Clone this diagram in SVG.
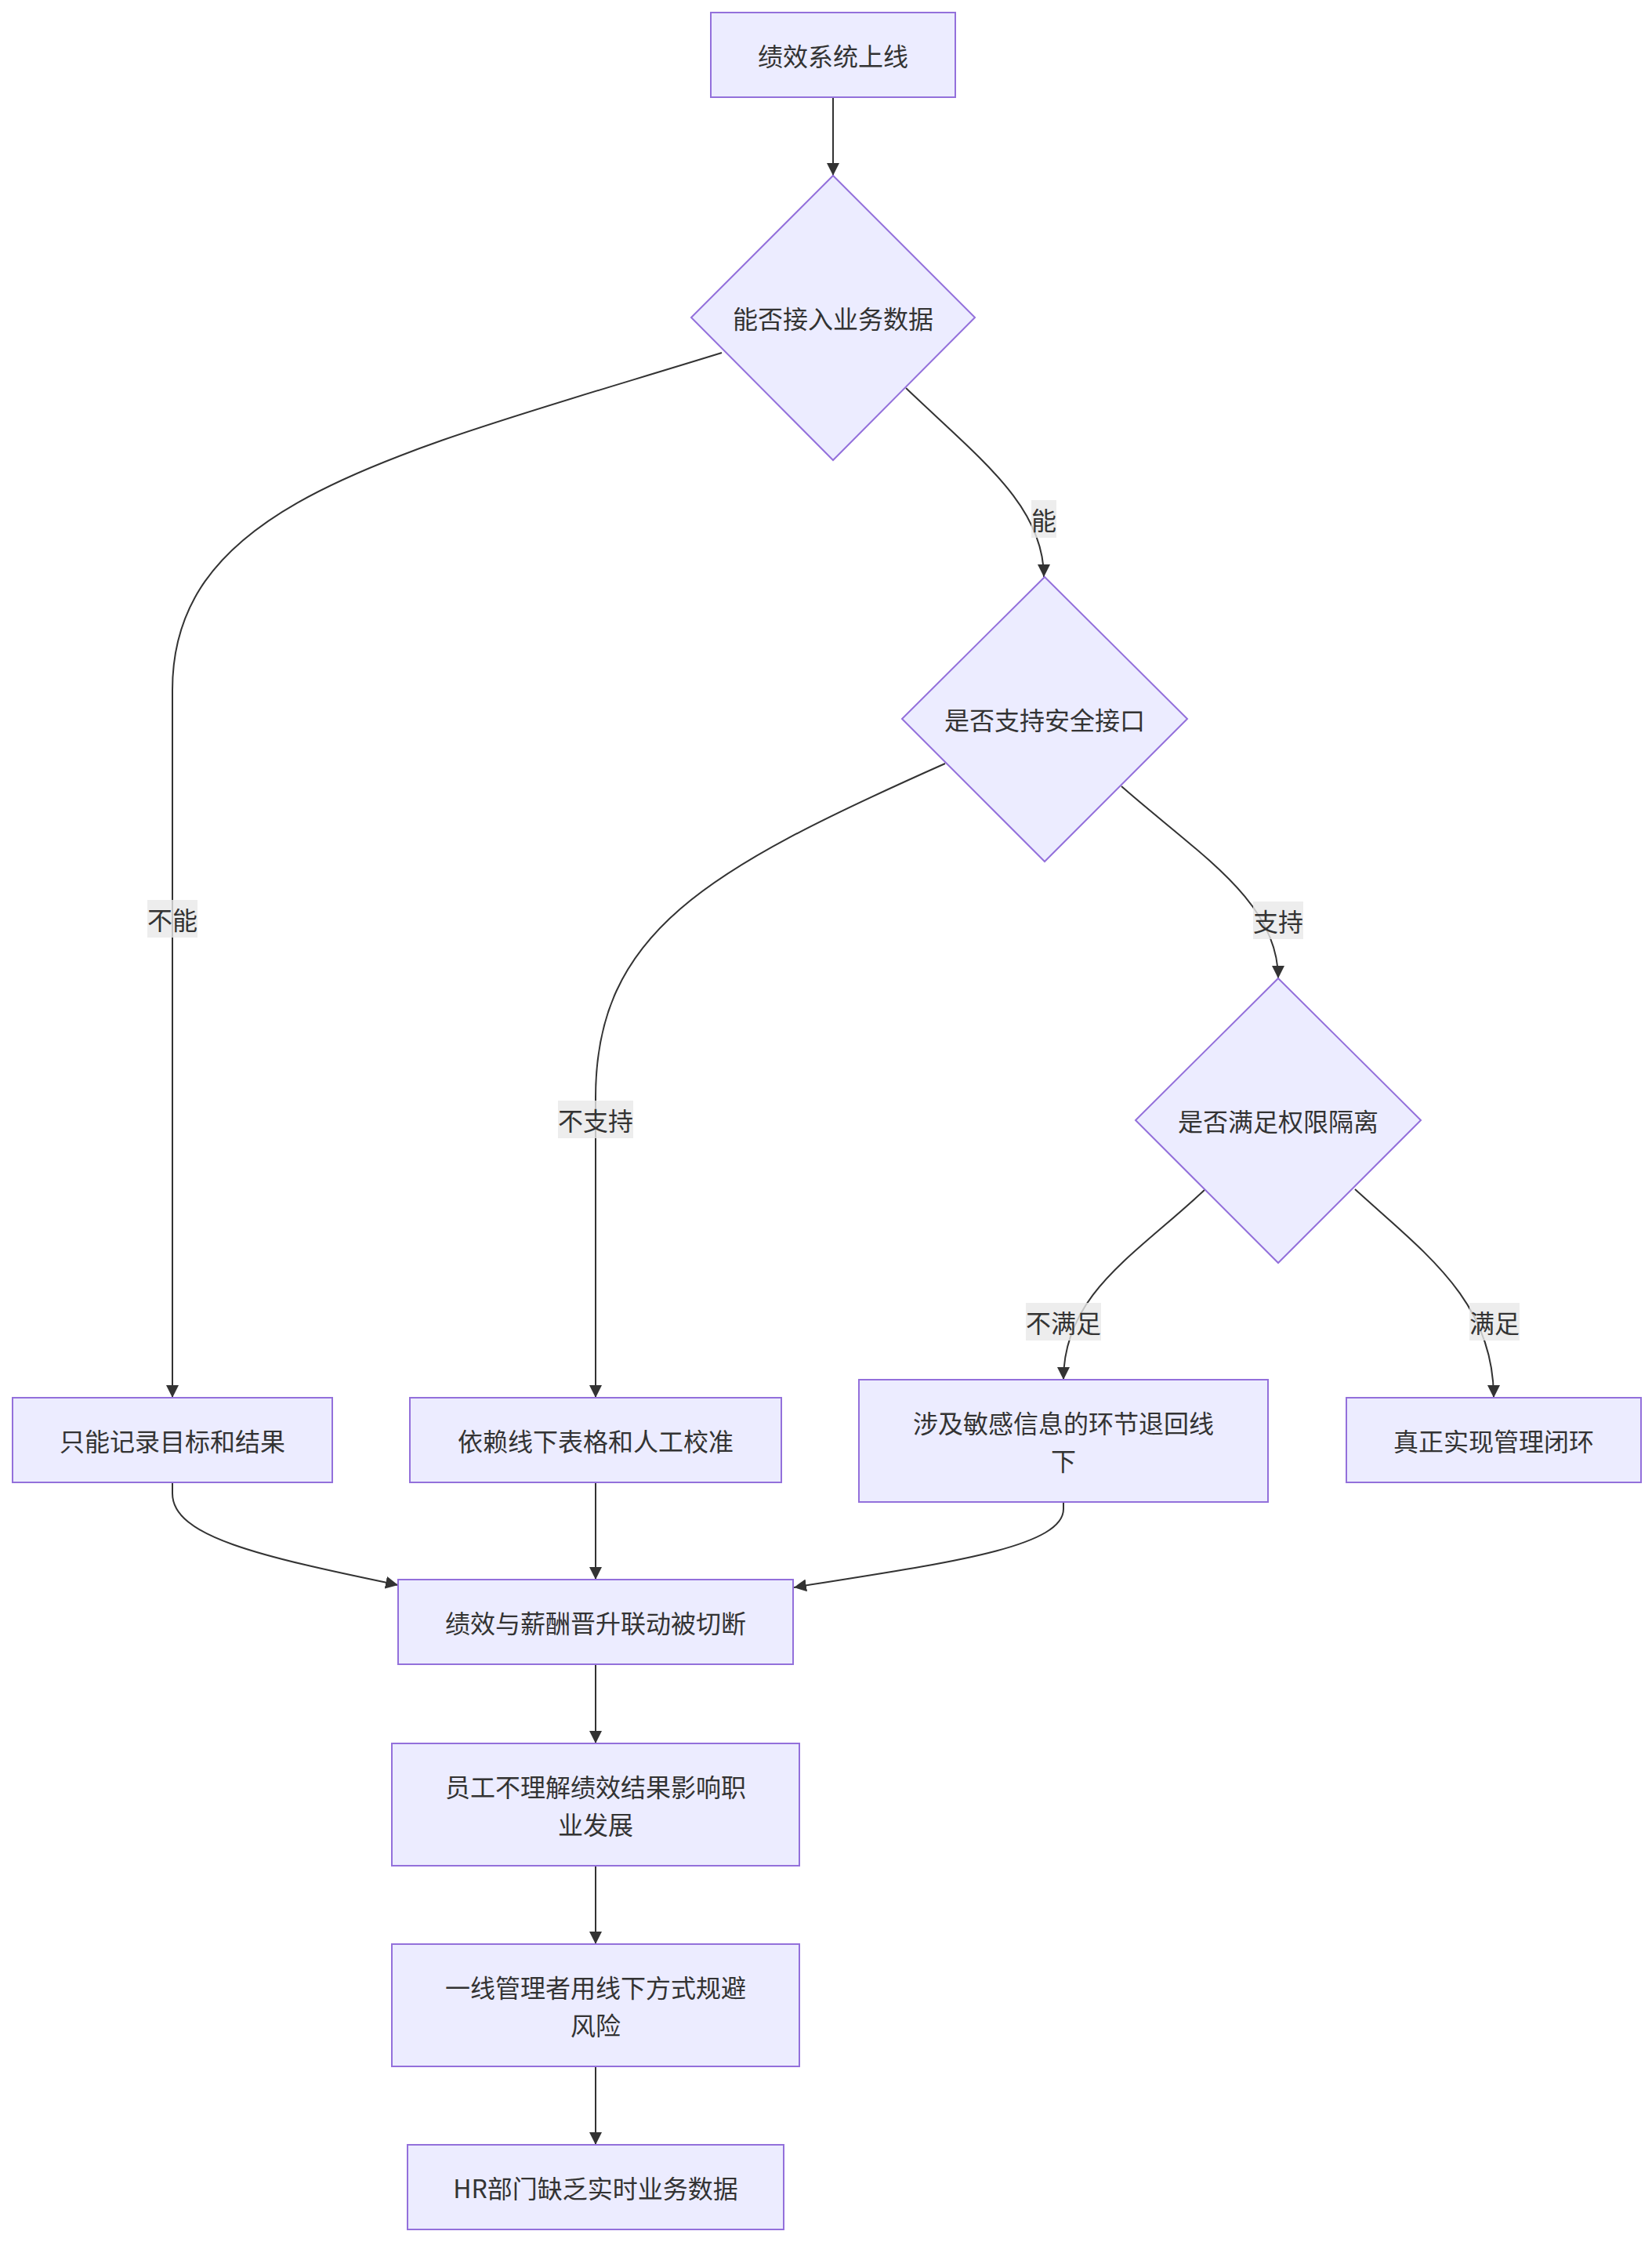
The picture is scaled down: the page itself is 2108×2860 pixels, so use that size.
<svg xmlns="http://www.w3.org/2000/svg" width="2108" height="2860" viewBox="0 0 2108 2860">
<style>
.node rect, .node polygon { fill: #ECECFF; stroke: #9370DB; stroke-width: 2; }
.node text, .elabel text { font-family: "Noto Sans CJK SC", "Noto Sans", sans-serif; font-size: 32px; fill: #333333; text-anchor: middle; dominant-baseline: central; }
.edge { fill: none; stroke: #333333; stroke-width: 2; marker-end: url(#arrow); }
.elabel rect { fill: #e8e8e8; fill-opacity: 0.8; }
</style>
<defs>
<marker id="arrow" viewBox="0 0 10 10" refX="10" refY="5" markerUnits="userSpaceOnUse" markerWidth="16" markerHeight="16" orient="auto">
<path d="M0,0 L10,5 L0,10 z" fill="#333333"/>
</marker>
</defs>
<rect width="2108" height="2860" fill="#ffffff"/>
<g id="connectors">
<path class="edge" d="M1063,124 L1063,224"/>
<path class="edge" d="M921,450 C500,580 220,640 220,880 L220,1783"/>
<path class="edge" d="M1156,495 C1250,585 1332,645 1332,736"/>
<path class="edge" d="M1206,974 C900,1110 760,1190 760,1400 L760,1783"/>
<path class="edge" d="M1431,1003 C1530,1090 1631,1150 1631,1248"/>
<path class="edge" d="M1538,1517 C1450,1600 1357,1650 1357,1760"/>
<path class="edge" d="M1729,1517 C1820,1600 1906,1660 1906,1783"/>
<path class="edge" d="M220,1891 L220,1905 C220,1960 330,1985 508,2022"/>
<path class="edge" d="M760,1891 L760,2015"/>
<path class="edge" d="M1357,1916 L1357,1925 C1357,1975 1200,1995 1013,2025"/>
<path class="edge" d="M760,2123 L760,2224"/>
<path class="edge" d="M760,2380 L760,2480"/>
<path class="edge" d="M760,2636 L760,2736"/>
<g class="elabel"><rect x="1316" y="638" width="32" height="48"/><text x="1332" y="662">能</text></g>
<g class="elabel"><rect x="188" y="1148" width="64" height="48"/><text x="220" y="1172">不能</text></g>
<g class="elabel"><rect x="712" y="1404" width="96" height="48"/><text x="760" y="1428">不支持</text></g>
<g class="elabel"><rect x="1599" y="1150" width="64" height="48"/><text x="1631" y="1174">支持</text></g>
<g class="elabel"><rect x="1309" y="1662" width="96" height="48"/><text x="1357" y="1686">不满足</text></g>
<g class="elabel"><rect x="1875" y="1662" width="64" height="48"/><text x="1907" y="1686">满足</text></g>
</g>
<g id="nodeA" class="node"><rect x="907" y="16" width="312" height="108"/><text x="1063" y="70">绩效系统上线</text></g>
<g id="nodeB" class="node"><polygon points="1063,224 1244,405 1063,587 882,405"/><text x="1063" y="405">能否接入业务数据</text></g>
<g id="nodeC" class="node"><polygon points="1333,736 1515,917 1333,1099 1151,917"/><text x="1333" y="917">是否支持安全接口</text></g>
<g id="nodeD" class="node"><polygon points="1631,1248 1813,1429 1631,1611 1449,1429"/><text x="1631" y="1429">是否满足权限隔离</text></g>
<g id="nodeE" class="node"><rect x="16" y="1783" width="408" height="108"/><text x="220" y="1837">只能记录目标和结果</text></g>
<g id="nodeF" class="node"><rect x="523" y="1783" width="474" height="108"/><text x="760" y="1837">依赖线下表格和人工校准</text></g>
<g id="nodeG" class="node"><rect x="1096" y="1760" width="522" height="156"/><text x="1357" y="1814">涉及敏感信息的环节退回线</text><text x="1357" y="1862">下</text></g>
<g id="nodeH" class="node"><rect x="1718" y="1783" width="376" height="108"/><text x="1906" y="1837">真正实现管理闭环</text></g>
<g id="nodeI" class="node"><rect x="508" y="2015" width="504" height="108"/><text x="760" y="2069">绩效与薪酬晋升联动被切断</text></g>
<g id="nodeJ" class="node"><rect x="500" y="2224" width="520" height="156"/><text x="760" y="2278">员工不理解绩效结果影响职</text><text x="760" y="2326">业发展</text></g>
<g id="nodeK" class="node"><rect x="500" y="2480" width="520" height="156"/><text x="760" y="2534">一线管理者用线下方式规避</text><text x="760" y="2582">风险</text></g>
<g id="nodeL" class="node"><rect x="520" y="2736" width="480" height="108"/><text x="760" y="2790">HR部门缺乏实时业务数据</text></g>
</svg>
